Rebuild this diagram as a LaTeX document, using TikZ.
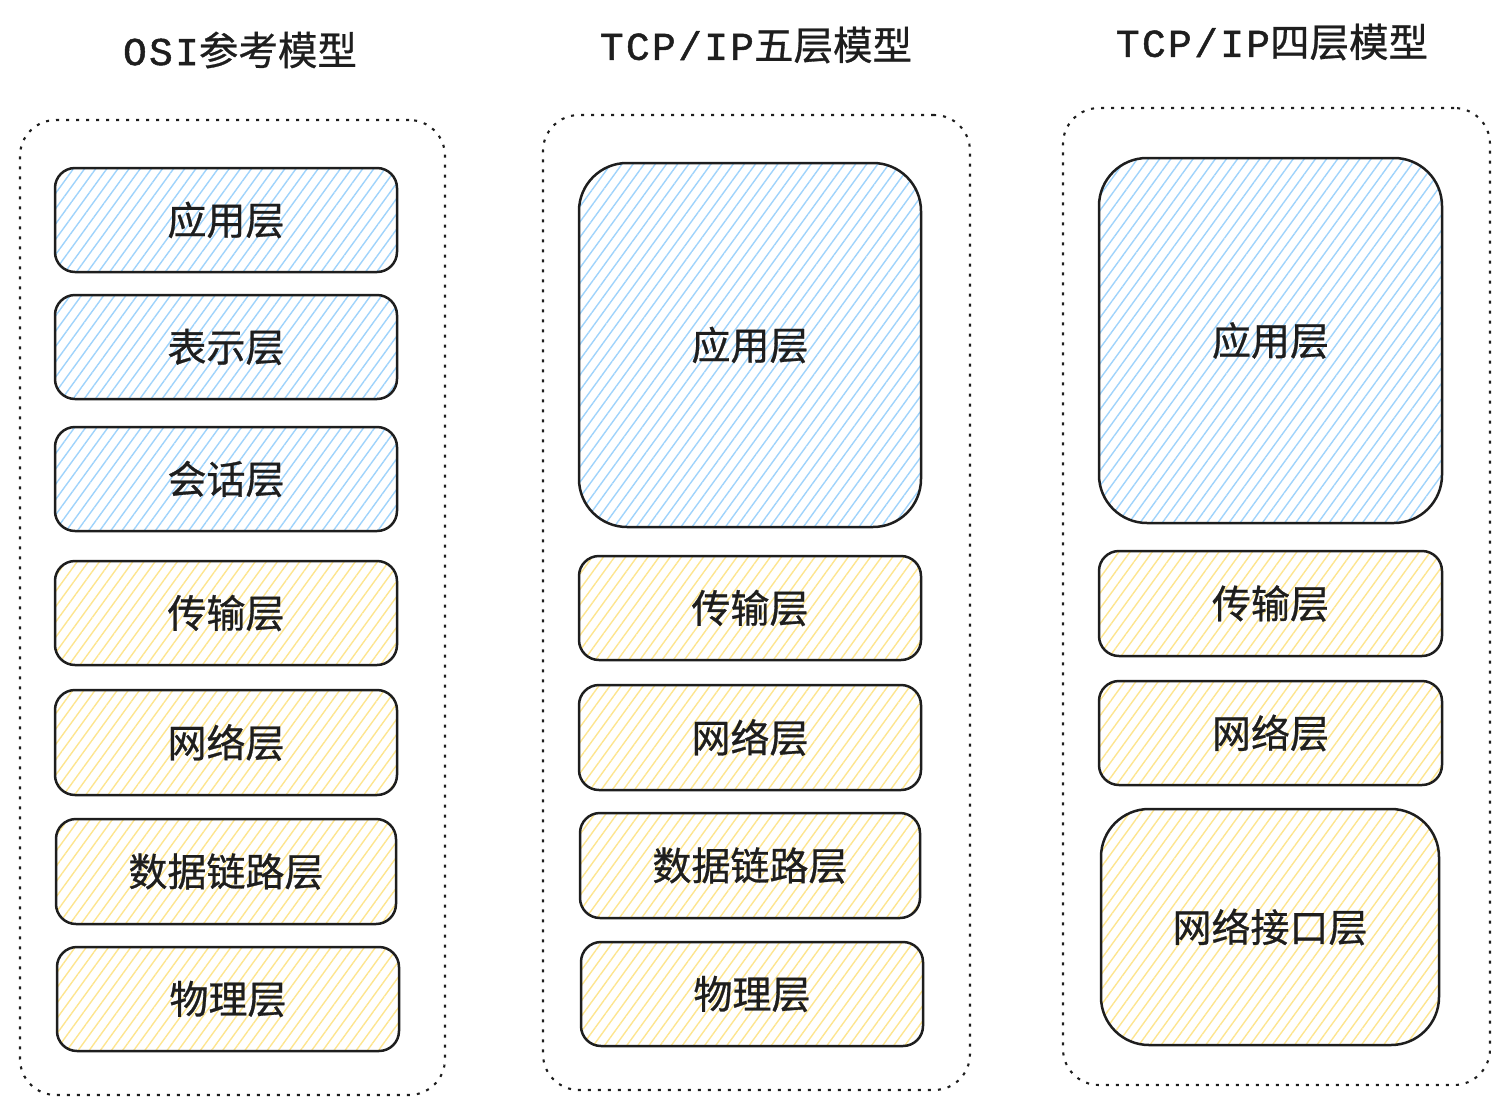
\documentclass[tikz,border=0pt]{standalone}
\usepackage{fontspec}
\setmainfont{Noto Sans CJK SC}
\newfontfamily\labelfont[FakeBold=0.7]{Noto Sans CJK SC}
\newfontfamily\latinhand[LetterSpace=6,FakeBold=1.2]{Liberation Mono}
\usetikzlibrary{patterns.meta}
\definecolor{ink}{HTML}{1E1E1E}
\definecolor{skyhatch}{HTML}{9FD3FB}
\definecolor{sandhatch}{HTML}{FDE58F}
\begin{document}
\begin{tikzpicture}[x=1pt,y=-1pt,
  container/.style={draw=ink, line width=2.1pt, dash pattern=on 3pt off 7pt,
    rounded corners=36pt, inner sep=0pt},
  layer/.style={draw=ink, line width=2.5pt, rounded corners=20pt, inner sep=0pt,
    font=\labelfont\fontsize{39}{41}\selectfont, text=ink},
  biglayer/.style={layer, rounded corners=48pt},
  upper/.style={pattern={Lines[angle=54,distance=9pt,line width=1.4pt]}, pattern color=skyhatch},
  lower/.style={pattern={Lines[angle=54,distance=9pt,line width=1.4pt]}, pattern color=sandhatch},
  title/.style={font=\labelfont\fontsize{39.5}{41}\selectfont, text=ink, inner sep=0pt}]
\useasboundingbox (0,0) rectangle (1508,1112);

% column titles
\node[title] (t1) at (240,50) {{\latinhand OSI}参考模型};
\node[title] (t2) at (756,45) {{\latinhand TCP/IP}五层模型};
\node[title] (t3) at (1272,42) {{\latinhand TCP/IP}四层模型};

% dashed outlines of the three models
\node[container, minimum width=425pt, minimum height=975pt] (c1) at (232.5,607.5) {};
\node[container, minimum width=427pt, minimum height=975pt] (c2) at (756.5,602.5) {};
\node[container, minimum width=427pt, minimum height=977pt] (c3) at (1276.5,596.5) {};

% OSI seven layers
\node[layer, upper, minimum width=342pt, minimum height=104pt] (o1) at (226,220) {应用层};
\node[layer, upper, minimum width=342pt, minimum height=104pt] (o2) at (226,347) {表示层};
\node[layer, upper, minimum width=342pt, minimum height=104pt] (o3) at (226,479) {会话层};
\node[layer, lower, minimum width=342pt, minimum height=104pt] (o4) at (226,613) {传输层};
\node[layer, lower, minimum width=342pt, minimum height=105pt] (o5) at (226,742.5) {网络层};
\node[layer, lower, minimum width=340pt, minimum height=105pt] (o6) at (226,871.5) {数据链路层};
\node[layer, lower, minimum width=342pt, minimum height=104pt] (o7) at (228,999) {物理层};

% TCP/IP five layers
\node[biglayer, upper, minimum width=342pt, minimum height=364pt] (f1) at (750,345) {应用层};
\node[layer, lower, minimum width=342pt, minimum height=104pt] (f2) at (750,608) {传输层};
\node[layer, lower, minimum width=342pt, minimum height=105pt] (f3) at (750,737.5) {网络层};
\node[layer, lower, minimum width=340pt, minimum height=105pt] (f4) at (750,865.5) {数据链路层};
\node[layer, lower, minimum width=342pt, minimum height=104pt] (f5) at (752,994) {物理层};

% TCP/IP four layers
\node[biglayer, upper, minimum width=343pt, minimum height=365pt] (q1) at (1270.5,340.5) {应用层};
\node[layer, lower, minimum width=343pt, minimum height=105pt] (q2) at (1270.5,603.5) {传输层};
\node[layer, lower, minimum width=343pt, minimum height=104pt] (q3) at (1270.5,733) {网络层};
\node[biglayer, lower, minimum width=338pt, minimum height=236pt] (q4) at (1270,927) {网络接口层};
\end{tikzpicture}
\end{document}
